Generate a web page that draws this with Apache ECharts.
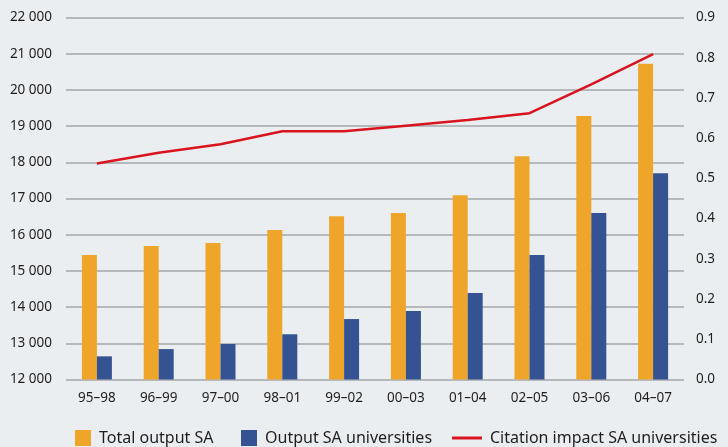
<!DOCTYPE html>
<html>
<head>
<meta charset="utf-8">
<script src="https://cdn.jsdelivr.net/npm/echarts@6/dist/echarts.min.js"></script>
<style>
html,body{margin:0;padding:0;background:#ebeef1;}
#chart{width:728px;height:447px;}
</style>
</head>
<body>
<div id="chart"></div>
<script>
var categories = ['95–98','96–99','97–00','98–01','99–02','00–03','01–04','02–05','03–06','04–07'];
var totalOutputSA = [15440, 15690, 15770, 16130, 16510, 16600, 17090, 18170, 19280, 20720];
var outputSAUniversities = [12640, 12840, 12980, 13250, 13670, 13890, 14390, 15440, 16600, 17700];
var citationImpact = [0.537, 0.564, 0.585, 0.617, 0.617, 0.631, 0.645, 0.662, 0.734, 0.809];
var leftTicks = {min: 12000, max: 22000, interval: 1000};
var rightTicks = {min: 0, max: 0.9, interval: 0.1};
var seriesNames = ['Total output SA', 'Output SA universities', 'Citation impact SA universities'];

var FONT = '"Noto Sans", "DejaVu Sans", sans-serif';
var chart = echarts.init(document.getElementById('chart'), null, {renderer: 'canvas'});
var legendText = {color: '#1e1e1e', fontSize: 16, fontFamily: FONT, padding: [0, 0, 0, 3]};
chart.setOption({
  backgroundColor: '#ebeef1',
  animation: false,
  grid: {left: 66, top: 17.5, width: 618, height: 362, containLabel: false},
  legend: [
    {data: [seriesNames[0]], left: 70, top: 425, padding: 5, itemWidth: 16, itemHeight: 16, icon: 'rect', textStyle: legendText},
    {data: [seriesNames[1]], left: 236, top: 425, padding: 5, itemWidth: 16, itemHeight: 16, icon: 'rect', textStyle: legendText},
    {data: [seriesNames[2]], left: 447, top: 425, padding: 5, itemWidth: 30, itemHeight: 3, icon: 'rect', textStyle: legendText}
  ],
  xAxis: {
    type: 'category',
    data: categories,
    axisTick: {show: false},
    axisLine: {show: false},
    axisLabel: {color: '#1e1e1e', fontSize: 13.5, fontFamily: FONT, margin: 12}
  },
  yAxis: [
    {
      type: 'value', min: leftTicks.min, max: leftTicks.max, interval: leftTicks.interval,
      axisLine: {show: false}, axisTick: {show: false},
      splitLine: {lineStyle: {color: '#a4a7aa', width: 1.5}},
      axisLabel: {
        color: '#1e1e1e', fontSize: 13.5, fontFamily: FONT, margin: 14,
        formatter: function (v) { return String(v).replace(/\B(?=(\d{3})+(?!\d))/g, ' '); }
      }
    },
    {
      type: 'value', min: rightTicks.min, max: rightTicks.max, interval: rightTicks.interval,
      position: 'right',
      axisLine: {show: false}, axisTick: {show: false}, splitLine: {show: false},
      axisLabel: {
        color: '#1e1e1e', fontSize: 13.5, fontFamily: FONT, margin: 12,
        formatter: function (v) { return v.toFixed(1); }
      }
    }
  ],
  series: [
    {
      name: seriesNames[0], type: 'bar', data: totalOutputSA, barWidth: 15, barGap: '0%',
      itemStyle: {color: '#eea52a'}
    },
    {
      name: seriesNames[1], type: 'bar', data: outputSAUniversities, barWidth: 15, barGap: '0%',
      itemStyle: {color: '#355392'}
    },
    {
      name: seriesNames[2], type: 'line', yAxisIndex: 1, data: citationImpact,
      symbol: 'none', lineStyle: {color: '#d9141e', width: 2.5},
      itemStyle: {color: '#d9141e'}
    }
  ]
});
</script>
</body>
</html>
